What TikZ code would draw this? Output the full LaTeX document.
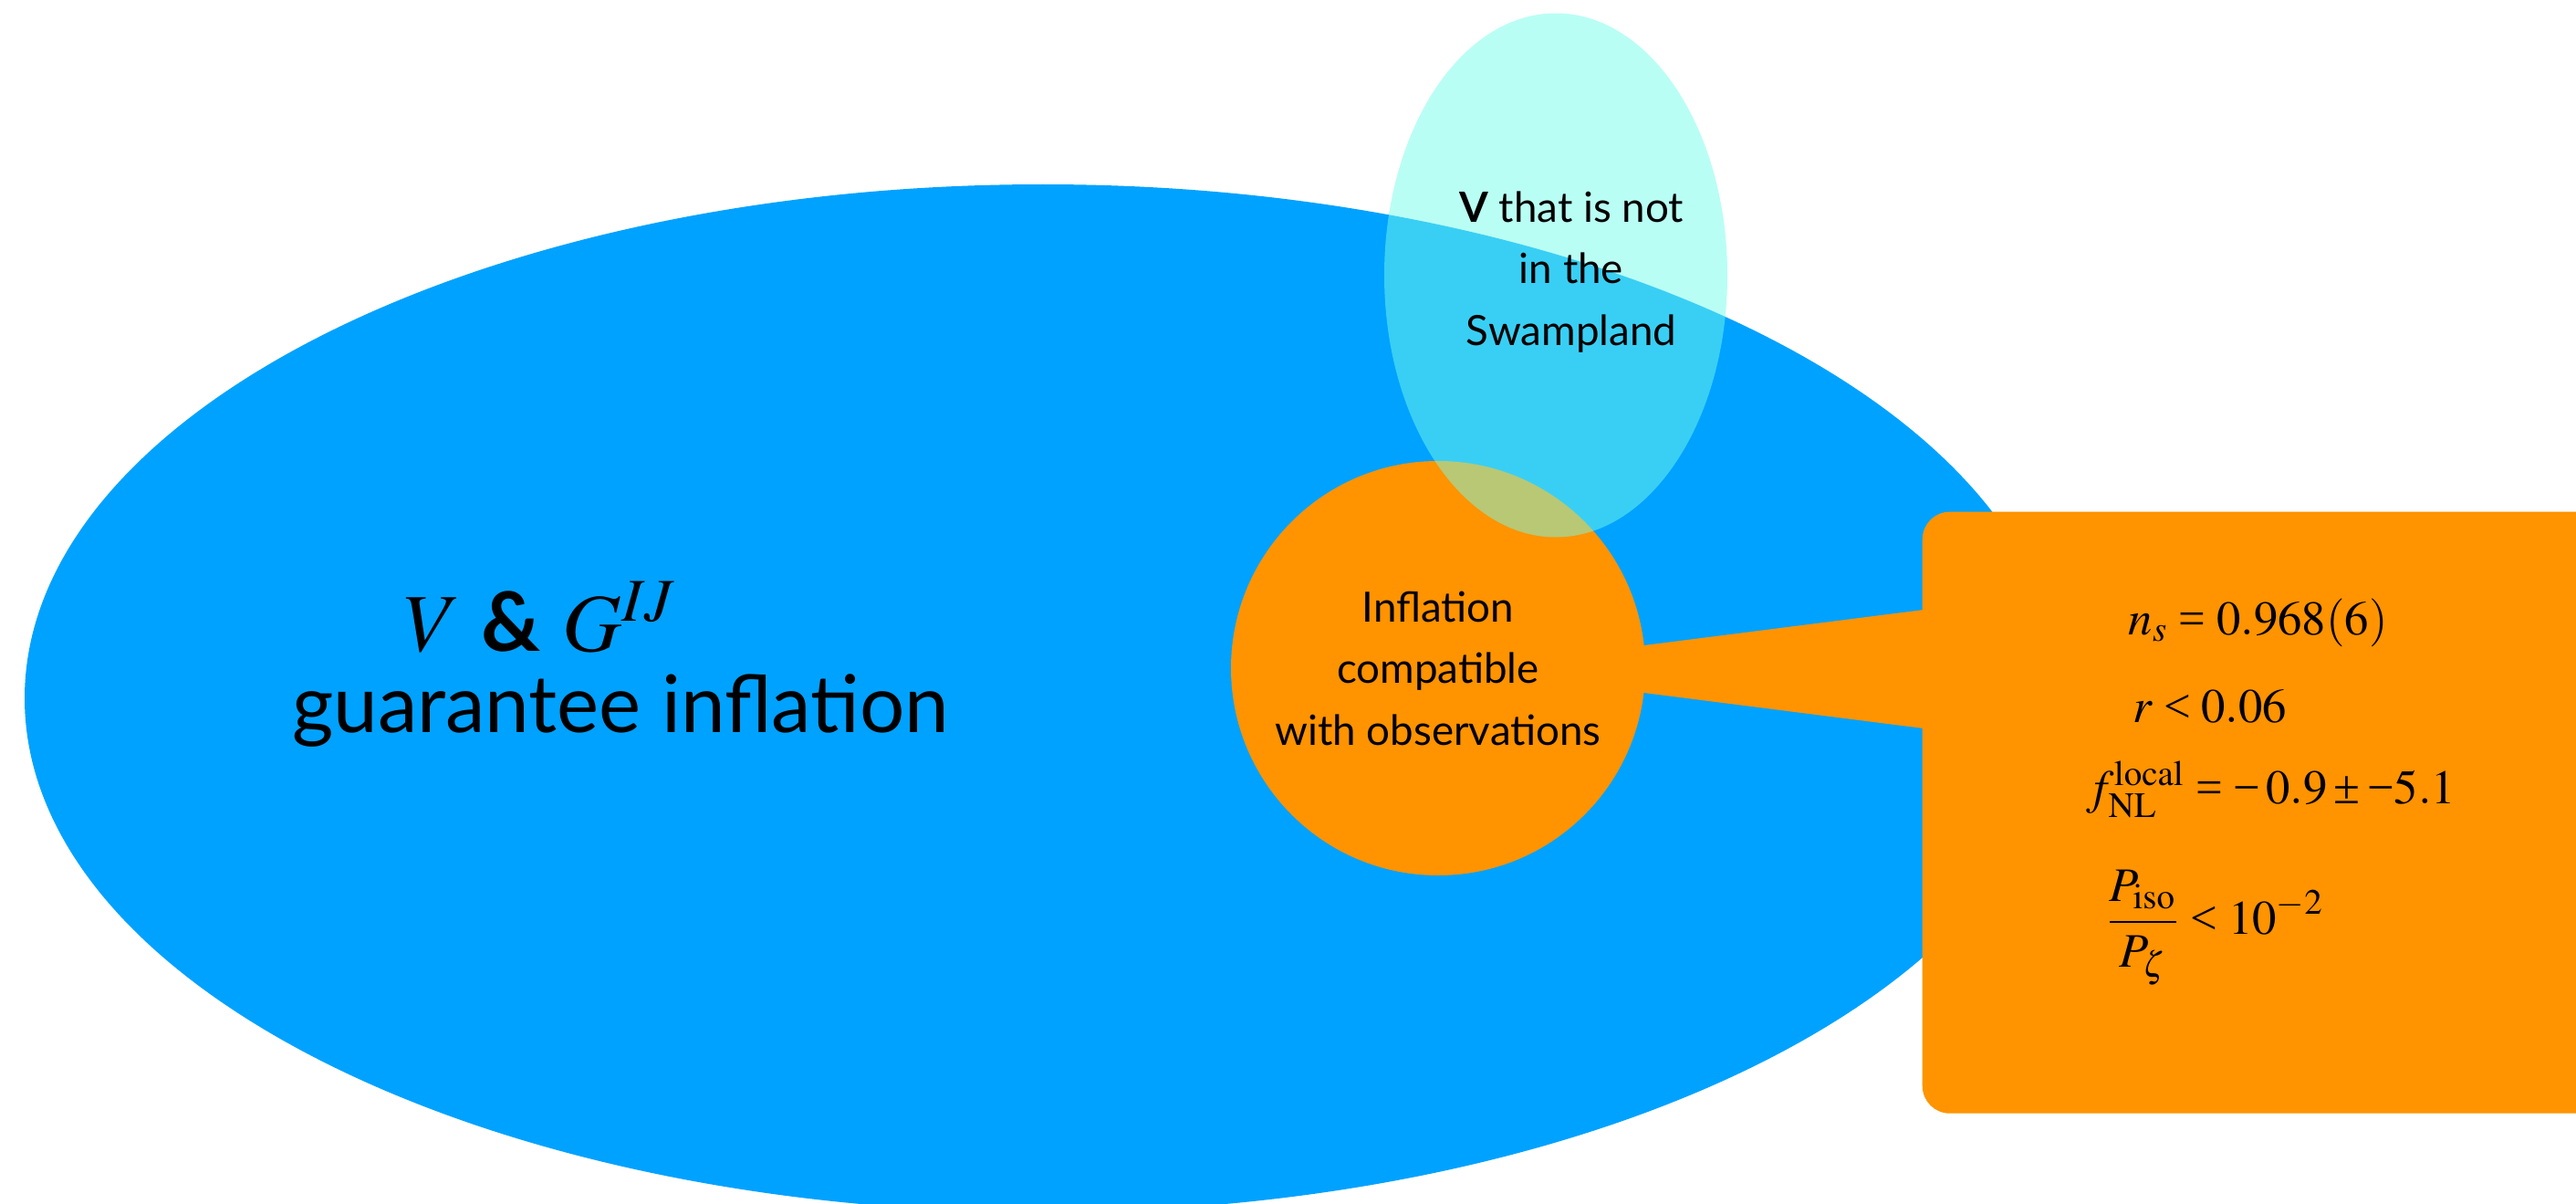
\documentclass[tikz,border=0pt]{standalone}
\usepackage{mathptmx}
\usepackage[no-math]{fontspec}
\setmainfont{Lato}
\newfontfamily\timesfont{Liberation Serif}
\usetikzlibrary{shapes.geometric,calc,positioning}

\definecolor{venblue}{HTML}{00A2FF}
\definecolor{venorange}{HTML}{FF9300}
\definecolor{venaqua}{HTML}{73FDEA}

% narrow Times relations and signs
\newcommand\trel[1]{\mathrel{\hbox{\timesfont #1}}}
\newcommand\tbin[1]{\mathbin{\hbox{\timesfont #1}}}
\newcommand\tneg{\mathord{\hbox{\timesfont\char"2212}}}

\tikzset{
  blob/.style={ellipse, inner sep=0pt},
  settext/.style={align=center, inner sep=0pt, font=\fontsize{13}{19.2}\selectfont},
  obsline/.style={anchor=base west, inner sep=0pt, font=\fontsize{15}{18}\selectfont},
}

\begin{document}
\begin{tikzpicture}
\useasboundingbox (0,0) rectangle (28.23,13.18);
\clip (0,0) rectangle (28.23,13.18);

% the large set
\node[blob, fill=venblue, minimum width=22.32cm, minimum height=11.26cm] (potential) at (11.43,5.53) {};
\node[anchor=base, inner sep=0pt, font=\fontsize{25.6}{30}\selectfont] (vg) at (5.92,6.05) {$V$ \textbf{\&} $G^{IJ}$};
\node[anchor=base, inner sep=0pt, font=\fontsize{24.8}{30}\selectfont] (guarantee) at (6.80,5.16) {guarantee inflation};

% observations and the swampland
\node[circle, fill=venorange, minimum size=4.54cm, settext] (obs) at (15.76,5.86) {Inflation\\compatible\\with observations};
\node[blob, fill=venaqua, fill opacity=0.5, minimum width=3.76cm, minimum height=5.74cm] (swamp) at (17.05,10.165) {};
\node[settext] (swamptext) at (17.22,10.20) {\textbf{V} that is not\\in the\\Swampland};

% callout with the constraints
\node[rectangle, rounded corners=0.3cm, fill=venorange, minimum width=8.6cm, minimum height=6.59cm, anchor=north west] (data) at (21.06,7.58) {};
\fill[venorange] ($(obs.east)+(-0.1,0.24)$) -- ($(data.north west)+(0.1,-1.07)$)
  -- ($(data.north west)+(0.1,-2.39)$) -- ($(obs.east)+(-0.1,-0.26)$) -- cycle;

\node[obsline] (ns) at (23.32,6.23) {$n_s \trel{=} 0.968(6)$};
\node[obsline] (tensor) at (23.37,5.27) {$r \trel{<} 0.06$};
\node[obsline] (fnl) at (22.86,4.38) {$f_{\mathrm{NL}}^{\mathrm{local}} \trel{=} \tneg\, 0.9 \tbin{±} \tneg 5.1$};
\node[obsline] (iso) at (23.07,2.95) {$\displaystyle\frac{P_{\mathrm{iso}}}{P_\zeta} \trel{<} 10^{-2}$};
\end{tikzpicture}
\end{document}
